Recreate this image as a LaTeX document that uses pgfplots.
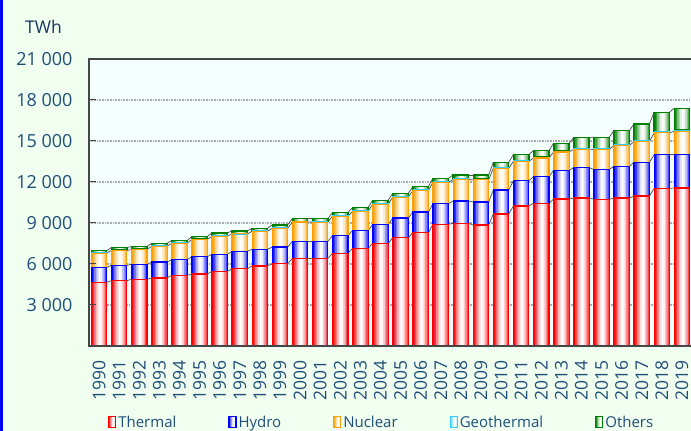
\documentclass[border=0pt]{standalone}
\usepackage{pgfplots}
\pgfplotsset{compat=1.18}
\usepackage{pgfplotstable}
\usepackage{fontspec}
\setmainfont{Open Sans}

\definecolor{bgc}{RGB}{240,255,240}
\definecolor{plotbg}{RGB}{245,255,255}
\definecolor{tickc}{RGB}{31,78,121}
\definecolor{twhc}{RGB}{23,54,93}
\definecolor{axisc}{RGB}{70,70,70}
\definecolor{gridc}{RGB}{170,170,170}
\definecolor{thermalc}{RGB}{255,0,0}
\definecolor{hydroc}{RGB}{0,0,255}
\definecolor{nuclearc}{RGB}{255,160,0}
\definecolor{geoc}{RGB}{51,204,255}
\definecolor{othersc}{RGB}{0,128,0}

\newcommand\barshade[2]{%
\pgfdeclarehorizontalshading{#1}{100bp}{color(0bp)=(#2); color(25bp)=(#2);
 color(33bp)=(#2!55!white); color(52bp)=(white); color(62bp)=(white);
 color(72bp)=(#2!50!white); color(75bp)=(#2!70!white); color(100bp)=(#2!70!white)}}
\barshade{thermalsh}{thermalc}
\barshade{hydrosh}{hydroc}
\barshade{nuclearsh}{nuclearc}
\barshade{geosh}{geoc}
\barshade{otherssh}{othersc}

\pgfplotstableread{
Year T H N G O
1990 4659 1097 1037 36 155
1991 4780 1122 1084 38 180
1992 4878 1098 1082 39 180
1993 4976 1170 1155 40 180
1994 5171 1146 1203 41 155
1995 5268 1268 1251 42 180
1996 5463 1244 1323 43 204
1997 5658 1269 1272 45 179
1998 5854 1219 1320 46 179
1999 6024 1220 1367 47 204
2000 6390 1268 1412 52 204
2001 6415 1243 1411 53 204
2002 6780 1293 1434 54 204
2003 7146 1317 1383 56 229
2004 7512 1366 1504 57 228
2005 7927 1439 1527 58 228
2006 8293 1512 1575 59 228
2007 8902 1513 1548 61 253
2008 8976 1634 1571 63 277
2009 8854 1683 1618 65 301
2010 9658 1757 1590 68 375
2011 10244 1853 1419 69 424
2012 10439 1951 1369 70 472
2013 10756 2098 1342 72 570
2014 10829 2220 1339 75 790
2015 10732 2195 1457 79 814
2016 10829 2317 1528 82 1009
2017 10976 2463 1525 85 1204
2018 11537 2463 1595 88 1423
2019 11561 2463 1691 90 1594
}\data
\pgfplotstablecreatecol[create col/expr={\thisrow{T}+\thisrow{H}}]{cH}\data
\pgfplotstablecreatecol[create col/expr={\thisrow{cH}+\thisrow{N}}]{cN}\data
\pgfplotstablecreatecol[create col/expr={\thisrow{cN}+\thisrow{G}}]{cG}\data
\pgfplotstablecreatecol[create col/expr={\thisrow{cG}+\thisrow{O}}]{cO}\data
\pgfplotstablecreatecol[create col/expr={\nextrow{T}-\thisrow{T}}]{dT}\data
\pgfplotstablecreatecol[create col/expr={\nextrow{cH}-\thisrow{cH}}]{dH}\data
\pgfplotstablecreatecol[create col/expr={\nextrow{cN}-\thisrow{cN}}]{dN}\data
\pgfplotstablecreatecol[create col/expr={\nextrow{cG}-\thisrow{cG}}]{dG}\data
\pgfplotstablecreatecol[create col/expr={\nextrow{cO}-\thisrow{cO}}]{dO}\data

\pgfplotsset{
  base/.style={at={(89pt,85pt)}, anchor=south west, scale only axis,
    width=603pt, height=287pt, xmin=-0.5, xmax=29.5, ymin=0, ymax=21000,
    scaled y ticks=false},
  sline/.style={draw=black!70, line width=0.7pt, skip coords between index={29}{30}},
}

% one vertical strip of a bar (cumulative column #1, colour #2, shift #3, colour share #4)
\newcommand\stripbar[4]{%
 \addplot[forget plot, ybar, bar width=0.086, bar shift=#3, fill=#2!#4!white, draw=none]
   table[x expr=\coordindex, y=#1]{\data};}
\newcommand\gradbar[2]{%
 \stripbar{#1}{#2}{-0.3465}{100}
 \stripbar{#1}{#2}{-0.2695}{78}
 \stripbar{#1}{#2}{-0.1925}{52}
 \stripbar{#1}{#2}{-0.1155}{30}
 \stripbar{#1}{#2}{-0.0385}{12}
 \stripbar{#1}{#2}{0.0385}{0}
 \stripbar{#1}{#2}{0.1155}{5}
 \stripbar{#1}{#2}{0.1925}{22}
 \stripbar{#1}{#2}{0.2695}{45}
 \stripbar{#1}{#2}{0.3465}{72}}

\begin{document}
\begin{tikzpicture}[x=1pt,y=1pt]
\fill[bgc] (0,0) rectangle (691,431);
\useasboundingbox (0,0) rectangle (691,431);
\fill[blue] (0,0) rectangle (2.6,431);
\node[font=\fontsize{17.5}{20}\selectfont, text=twhc, inner sep=0pt] at (43.5,404.5) {TWh};

% background, grid and series lines
\begin{axis}[base,
  axis background/.style={fill=plotbg},
  axis line style={draw=none},
  xtick=\empty, ytick={3000,6000,...,18000}, yticklabels={},
  major tick length=0pt,
  ymajorgrids, grid style={draw=gridc, line width=1.3pt, dash pattern=on 1pt off 0.6pt}]
\addplot[sline, quiver={u=0.23, v=\thisrow{dT}}] table[x expr=\coordindex+0.385, y=T]{\data};
\addplot[sline, quiver={u=0.23, v=\thisrow{dH}}] table[x expr=\coordindex+0.385, y=cH]{\data};
\addplot[sline, quiver={u=0.23, v=\thisrow{dN}}] table[x expr=\coordindex+0.385, y=cN]{\data};
\addplot[sline, quiver={u=0.23, v=\thisrow{dO}}] table[x expr=\coordindex+0.385, y=cO]{\data};
\end{axis}

% gradient fills of the bar segments
\begin{axis}[base, axis line style={draw=none}, xtick=\empty, ytick=\empty]
\gradbar{cO}{othersc}
\gradbar{cG}{geoc}
\gradbar{cN}{nuclearc}
\gradbar{cH}{hydroc}
\gradbar{T}{thermalc}
\end{axis}

% outlines of the stacked segments, axis, ticks, labels, legend
\begin{axis}[base, axis on top,
  ybar stacked, bar width=0.77,
  axis line style={draw=axisc, line width=1.4pt},
  tick pos=left,
  major tick style={draw=axisc, line width=1pt},
  minor tick style={draw=gray, line width=1pt},
  major tick length=7pt, minor tick length=5pt,
  ytick={3000,6000,9000,12000,15000,18000,21000},
  yticklabels={3 000,6 000,9 000,12 000,15 000,18 000,21 000},
  yticklabel style={font=\fontsize{18}{20}\selectfont, text=tickc, xshift=-13pt},
  xtick=\empty,
  minor xtick={-0.5,0.5,...,29.5},
  extra x ticks={0,1,...,29},
  extra x tick labels={1990,1991,1992,1993,1994,1995,1996,1997,1998,1999,2000,2001,2002,2003,2004,2005,2006,2007,2008,2009,2010,2011,2012,2013,2014,2015,2016,2017,2018,2019},
  extra x tick style={major tick length=0pt,
     xticklabel style={font=\fontsize{17.5}{20}\selectfont, text=tickc, rotate=90, anchor=east, inner xsep=14pt}},
  legend style={draw=none, fill=none, inner sep=0pt, at={(axis description cs:0.0315,-0.265)}, anchor=west,
     font=\fontsize{15}{17}\selectfont, text=tickc,
     /tikz/every even column/.append style={column sep=50pt}},
  legend columns=5,
  legend image code/.code={\draw[#1, line width=1.1pt] (0pt,-5.5pt) rectangle (7pt,5.5pt);},
]
\addplot[forget plot, draw=thermalc, line width=1.1pt, fill=none] table[x expr=\coordindex, y=T]{\data};
\addplot[forget plot, draw=hydroc, line width=1.1pt, fill=none] table[x expr=\coordindex, y=H]{\data};
\addplot[forget plot, draw=nuclearc, line width=1.1pt, fill=none] table[x expr=\coordindex, y=N]{\data};
\addplot[forget plot, draw=geoc, line width=0.8pt, fill=none] table[x expr=\coordindex, y=G]{\data};
\addplot[forget plot, draw=othersc, line width=1.4pt, fill=none] table[x expr=\coordindex, y=O]{\data};
\addlegendimage{draw=thermalc, shade, shading=thermalsh}
\addlegendimage{draw=hydroc, shade, shading=hydrosh}
\addlegendimage{draw=nuclearc, shade, shading=nuclearsh}
\addlegendimage{draw=geoc, shade, shading=geosh}
\addlegendimage{draw=othersc, shade, shading=otherssh}
\legend{Thermal,Hydro,Nuclear,Geothermal,Others}
\end{axis}
\end{tikzpicture}
\end{document}
